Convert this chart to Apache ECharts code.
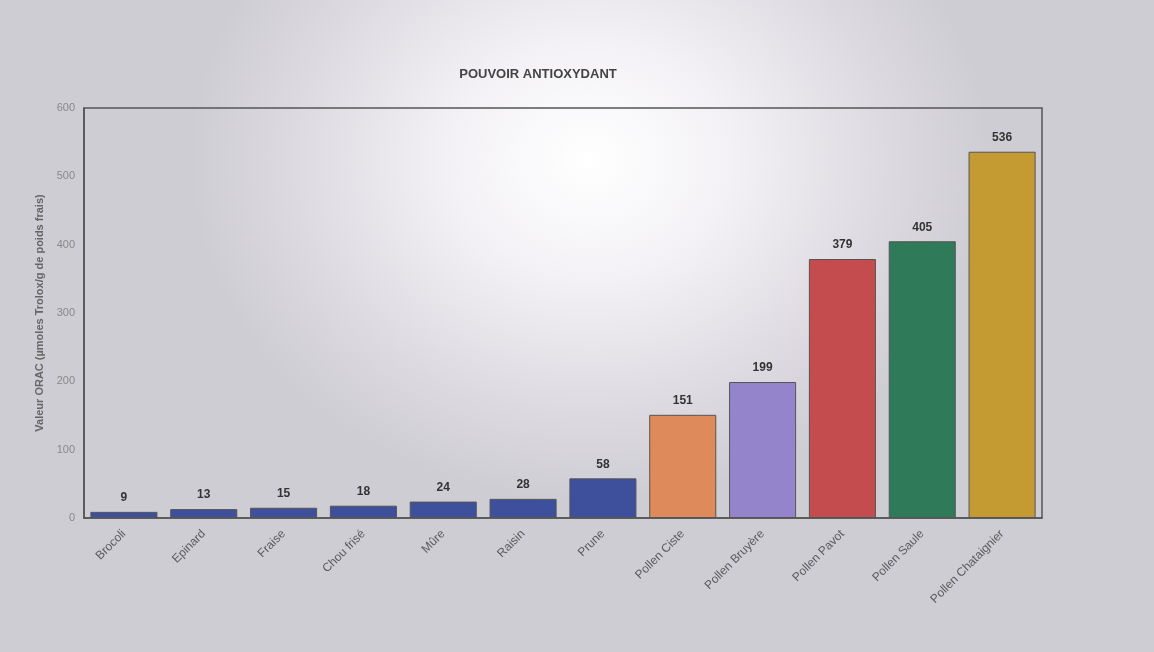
<!DOCTYPE html>
<html>
<head>
<meta charset="utf-8">
<script src="https://cdn.jsdelivr.net/npm/echarts@6/dist/echarts.min.js"></script>
<style>
  html, body { margin: 0; padding: 0; }
  body {
    width: 1154px; height: 652px; overflow: hidden;
    background: radial-gradient(ellipse 400px 340px at 590px 160px, #ffffff 0%, #f3f1f5 35%, #dcdae0 75%, #cfcdd4 100%);
  }
  #chart { width: 1154px; height: 652px; }
</style>
</head>
<body>
<div id="chart"></div>
<script>
// valeurs ORAC
const categories = ['Brocoli', 'Epinard', 'Fraise', 'Chou frisé', 'Mûre', 'Raisin', 'Prune',
  'Pollen Ciste', 'Pollen Bruyère', 'Pollen Pavot', 'Pollen Saule', 'Pollen Chataignier'];
const values = [9, 13, 15, 18, 24, 28, 58, 151, 199, 379, 405, 536];
const barColors = ['#3e4f9c', '#3e4f9c', '#3e4f9c', '#3e4f9c', '#3e4f9c', '#3e4f9c', '#3e4f9c',
  '#de8a5a', '#9384cc', '#c44c4e', '#2f7a58', '#c49a32'];
const yTicks = [0, 100, 200, 300, 400, 500, 600];

const chart = echarts.init(document.getElementById('chart'));

chart.setOption({
  backgroundColor: 'transparent',
  animation: false,
  title: {
    text: 'POUVOIR ANTIOXYDANT',
    left: 533, top: 63, textAlign: 'center',
    textStyle: { fontFamily: 'Liberation Sans', fontSize: 13, fontWeight: 'bold', color: '#444' },
  },
  grid: { left: 84, right: 112, top: 108, bottom: 134, show: true, borderColor: '#555', borderWidth: 1.5 },
  xAxis: {
    type: 'category', data: categories,
    axisTick: { show: false },
    axisLine: { lineStyle: { color: '#555', width: 1.5 } },
    axisLabel: {
      rotate: 45, interval: 0, margin: 14,
      fontFamily: 'Liberation Sans', fontSize: 12, color: '#5a5a5a',
    },
  },
  yAxis: {
    type: 'value', min: yTicks[0], max: yTicks[yTicks.length - 1], interval: 100,
    name: 'Valeur ORAC (µmoles Trolox/g de poids frais)',
    nameLocation: 'middle', nameGap: 36,
    nameTextStyle: { fontFamily: 'Liberation Sans', fontSize: 11, fontWeight: 'bold', color: '#666' },
    axisLine: { show: true, lineStyle: { color: '#555', width: 1.5 } },
    axisTick: { show: false },
    splitLine: { show: false },
    axisLabel: { fontFamily: 'Liberation Sans', fontSize: 11, color: '#888', margin: 9 },
  },
  series: [{
    type: 'bar',
    barWidth: '84%',
    data: values.map((v, i) => ({ value: v, itemStyle: { color: barColors[i] } })),
    itemStyle: { borderColor: '#555', borderWidth: 1 },
    label: {
      show: true, position: 'top', distance: 8,
      fontFamily: 'Liberation Sans', fontSize: 12, fontWeight: 'bold', color: '#333',
    },
  }],
});
</script>
</body>
</html>
